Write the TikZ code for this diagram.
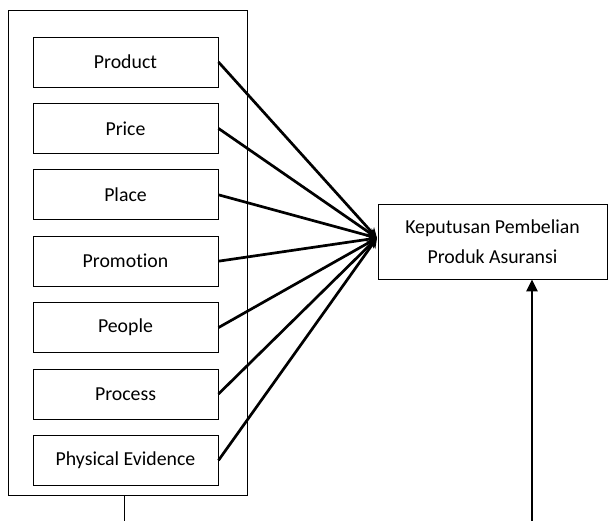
\documentclass[tikz,border=0pt]{standalone}
\usepackage{fontspec}
\setmainfont[Ligatures=NoCommon]{Carlito}
\usetikzlibrary{arrows.meta,positioning}

\begin{document}
\begin{tikzpicture}[x=1pt, y=1pt,
  var/.style={draw, line width=0.9pt, align=center, font=\fontsize{19.8}{30}\selectfont, minimum width=185pt, minimum height=50pt, inner sep=0pt},
  flow/.style={-{Stealth[length=10pt, width=10pt]}, line width=2.7pt},
  up/.style={-{Triangle[length=12pt, width=11pt]}, line width=2.8pt},
  node distance=15.5pt]
\useasboundingbox (0,0) rectangle (608,-521);
\node[draw, line width=0.9pt, minimum width=239pt, minimum height=485pt] (outer) at (127.5,-252.5) {};
\node[var] (product) at (125.5,-62) {Product};
\node[var, below=of product] (price) {Price};
\node[var, below=of price] (place) {Place};
\node[var, below=of place] (promotion) {Promotion};
\node[var, below=of promotion] (people) {People};
\node[var, below=of people] (process) {Process};
\node[var, below=of process] (physical) {Physical Evidence};
\node[var, minimum width=229pt, minimum height=75pt] (target) at (492.5,-241.5) {Keputusan Pembelian\\Produk Asuransi};
\coordinate (hub) at (377,-238);
\foreach \v in {product,price,place,promotion,people,process,physical}
  \draw[flow] (\v.east) -- (hub);
\coordinate (tail) at (124,-521);
\draw[line width=0.9pt] (outer.south -| tail) -- (tail);
\coordinate (base) at (532,-521);
\draw[up] (base) -- (base |- target.south);
\end{tikzpicture}
\end{document}
